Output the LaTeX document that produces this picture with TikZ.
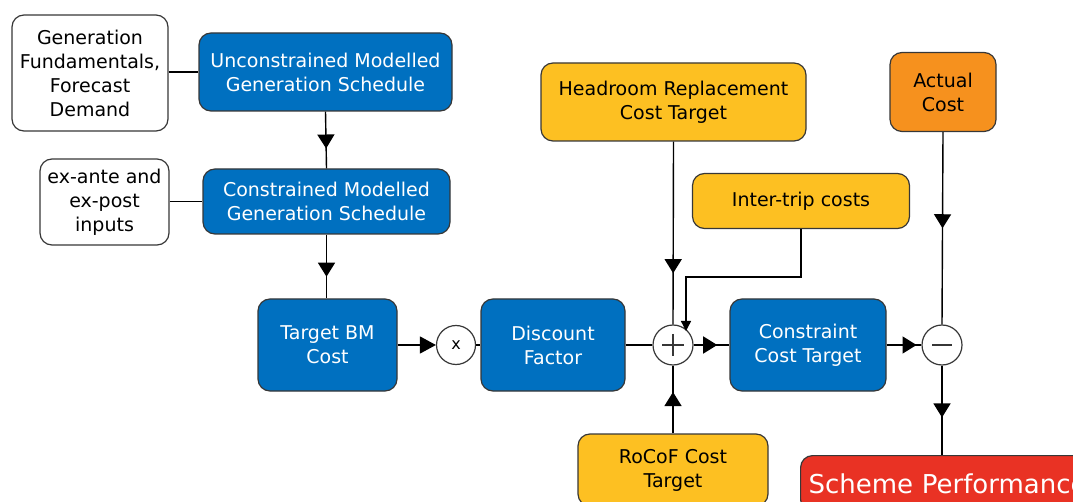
\documentclass[tikz,border=0pt]{standalone}
\usepackage{fontspec}
\setmainfont{DejaVu Sans}
\usetikzlibrary{arrows.meta,decorations.markings,calc}
\definecolor{bblue}{RGB}{0,112,192}
\definecolor{byellow}{RGB}{253,192,34}
\definecolor{borange}{RGB}{246,145,30}
\definecolor{bred}{RGB}{233,50,36}
\definecolor{bord}{RGB}{55,55,55}
\tikzset{
  box/.style={draw=bord, line width=1.2pt, rounded corners=12pt, align=center, inner sep=0pt},
  bluebox/.style={box, fill=bblue, text=white},
  whitebox/.style={box, fill=white, text=black},
  yellowbox/.style={box, fill=byellow, text=black},
  orangebox/.style={box, fill=borange, text=black},
  junction/.style={circle, draw=bord, line width=1.2pt, fill=white, minimum size=40pt, inner sep=0pt},
  conn/.style={draw=black, line width=1.4pt},
  midtip/.style={postaction={decorate, decoration={markings, mark=at position #1 with {\arrow{Triangle[length=14pt,width=17pt]}}}}},
  endtip/.style={-{Triangle[length=16pt,width=17pt]}},
  smalltip/.style={-{Triangle[length=10pt,width=10pt]}}
}
\begin{document}
\begin{tikzpicture}[x=1pt,y=-1pt, font=\fontsize{19}{24}\selectfont]
\useasboundingbox (0,0) rectangle (1073,502);
\clip (0,0) rectangle (1073,502);

% nodes
\node[whitebox, minimum width=156pt, minimum height=116pt] (gen) at (90,73) {Generation\\Fundamentals,\\Forecast\\Demand};
\node[bluebox, minimum width=253pt, minimum height=78pt] (unc) at (325.5,72) {Unconstrained Modelled\\Generation Schedule};
\node[whitebox, minimum width=129pt, minimum height=86pt] (exa) at (104.5,202) {ex-ante and\\ex-post\\inputs};
\node[bluebox, minimum width=247pt, minimum height=65pt] (con) at (326.5,201.5) {Constrained Modelled\\Generation Schedule};
\node[bluebox, minimum width=139pt, minimum height=92pt] (tbm) at (327.5,345) {Target BM\\Cost};
\node[junction, minimum size=39pt, font=\fontsize{16}{16}\selectfont] (xc) at (456,345) {x};
\node[bluebox, minimum width=144pt, minimum height=92pt] (disc) at (553,345) {Discount\\Factor};
\node[junction, path picture={
  \draw[line width=1.2pt] ($(path picture bounding box.center)+(-11,0)$) -- ++(22,0);
  \draw[line width=1.2pt] ($(path picture bounding box.center)+(0,-11)$) -- ++(0,22);}] (plus) at (673,345) {};
\node[yellowbox, minimum width=265pt, minimum height=78pt] (head) at (673.5,102) {Headroom Replacement\\Cost Target};
\node[yellowbox, minimum width=217pt, minimum height=55pt] (inter) at (801,201) {Inter-trip costs};
\node[bluebox, minimum width=156pt, minimum height=92pt] (cct) at (808,345) {Constraint\\Cost Target};
\node[junction, path picture={
  \draw[line width=1.2pt] ($(path picture bounding box.center)+(-10,0)$) -- ++(20,0);}] (minus) at (942,345) {};
\node[orangebox, minimum width=106pt, minimum height=79pt] (act) at (943,92) {Actual\\Cost};
\node[yellowbox, minimum width=190pt, minimum height=72pt] (rocof) at (673,470) {RoCoF Cost\\Target};
\node[box, fill=bred, text=white, anchor=north west, minimum width=300pt, minimum height=56pt,
      text width=284pt, align=left, inner xsep=8pt, font=\fontsize{26}{30}\selectfont] (scheme) at (800,455) {Scheme Performance};

% connectors
\draw[conn] (gen.east |- unc.west) -- (unc.west);
\draw[conn] (exa.east |- con.west) -- (con.west);
\draw[conn, midtip=0.65] (unc.south) -- (con.north);
\draw[conn, midtip=0.66] (con.south) -- (tbm.north -| con.south);
\draw[conn, endtip] (tbm.east) -- (xc.west);
\draw[conn] (xc.east) -- (disc.west);
\draw[conn] (disc.east) -- (plus.west);
\draw[conn, midtip=0.72] (head.south) -- (plus.north);
\coordinate (ibend) at (686,277);
\coordinate (iend) at (686,331);
\draw[conn, smalltip] (inter.south) |- (ibend) -- (iend);
\draw[conn, midtip=0.66] (plus.east) -- (cct.west);
\draw[conn, midtip=0.86] (cct.east) -- (minus.west);
\draw[conn, midtip=0.5] (act.south) -- (minus.north);
\draw[conn, midtip=0.58] (minus.south) -- (minus.south |- scheme.north);
\draw[conn, midtip=0.61] (rocof.north) -- (plus.south);
\end{tikzpicture}
\end{document}
